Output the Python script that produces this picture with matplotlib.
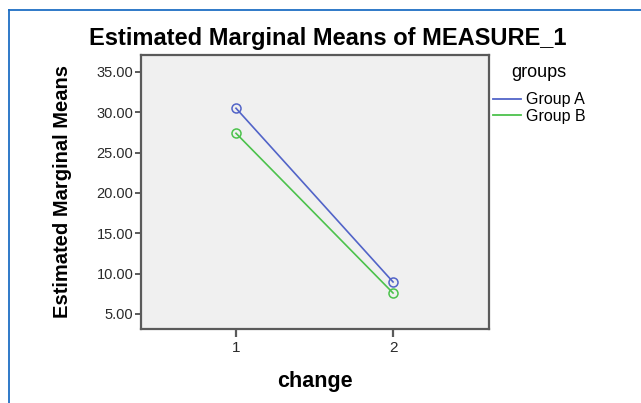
import matplotlib
matplotlib.use("Agg")
import matplotlib.pyplot as plt
from matplotlib.lines import Line2D

plt.rcParams["font.family"] = ["Liberation Sans", "DejaVu Sans"]

# data
change = [1, 2]
group_a = [30.5, 8.97]
group_b = [27.4, 7.6]
groups = ["Group A", "Group B"]
yticks = [5, 10, 15, 20, 25, 30, 35]

BLUE = "#5264c8"
GREEN = "#4cc24c"
SPINE = "#5a5a5a"

W, H = 641, 403
fig = plt.figure(figsize=(W/100, H/100), dpi=100)
fig.patch.set_facecolor("white")

# axes box in pixels: left 141, right 489, top 55, bottom 329
ax = fig.add_axes([141/W, 1-329/H, (489-141)/W, (329-55)/H])
ax.set_facecolor("#f0f0f0")

for vals, col in zip([group_a, group_b], [BLUE, GREEN]):
    ax.plot(change, vals, color=col, lw=1.2, marker="o", ms=6.5,
            mfc="none", mec=col, mew=1.1, zorder=3)

ax.set_xlim(0.395, 2.611)
ax.set_ylim(3.14, 37.1)
ax.set_xticks(change)
ax.set_xticklabels([str(c) for c in change])
ax.set_yticks(yticks)
ax.set_yticklabels([f"{v:.2f}" for v in yticks])
ax.tick_params(axis="y", direction="out", length=4, width=1.4, color=SPINE,
               pad=1.5, labelsize=10.5, labelcolor="#2a2a2a")
ax.tick_params(axis="x", direction="out", length=6, width=1.6, color=SPINE,
               pad=3, labelsize=11, labelcolor="#2a2a2a")
for sp in ax.spines.values():
    sp.set_color(SPINE)
    sp.set_linewidth(1.6)

fig.text(328/W, 1-45/H, "Estimated Marginal Means of MEASURE_1",
         ha="center", va="baseline", fontsize=17, fontweight="bold")
fig.text(63/W, 1-191/H, "Estimated Marginal Means", rotation=90,
         ha="center", va="center", fontsize=14.5, fontweight="bold")
fig.text(315/W, 1-382/H, "change", ha="center", va="center",
         fontsize=15.5, fontweight="bold")

handles = [Line2D([], [], color=BLUE, lw=1.3), Line2D([], [], color=GREEN, lw=1.3)]
leg = fig.legend(handles, groups, title="groups", loc="upper left",
                 bbox_to_anchor=(493/W, 1-64/H), frameon=False, fontsize=11.5,
                 title_fontsize=13, handlelength=1.75, handletextpad=0.3,
                 labelspacing=0.1, borderpad=0, borderaxespad=0)
leg._legend_box.sep = 8

# blue frame round the output
fig.add_artist(Line2D([9/W, 1], [1-10/H, 1-10/H], color="#1f6ec4", lw=1.3))
fig.add_artist(Line2D([9/W, 9/W], [0, 1-10/H], color="#1f6ec4", lw=1.3))

fig.savefig("out.png", dpi=100)
